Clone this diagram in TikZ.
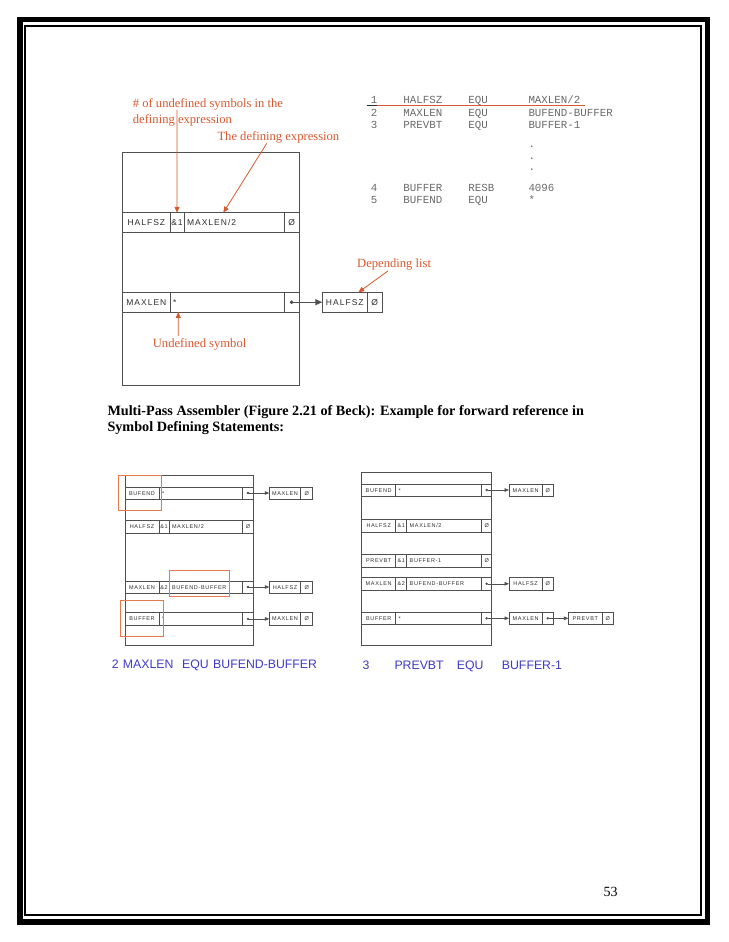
\documentclass[tikz,border=0pt]{standalone}
\usepackage{fontspec}
\setmainfont{Liberation Serif}
\newfontfamily\cellfont{Liberation Sans}[LetterSpace=12]
\newfontfamily\stmtfont{Liberation Sans}
\newfontfamily\listfont{Liberation Mono}
\usepackage{tikz}
\usetikzlibrary{arrows.meta,positioning}
\definecolor{annot}{RGB}{214,88,46}
\definecolor{hilite}{RGB}{228,122,78}
\definecolor{stmtblue}{RGB}{62,58,196}
\definecolor{listgray}{RGB}{105,105,105}
\definecolor{cellline}{RGB}{80,80,80}
\definecolor{celltext}{RGB}{45,45,45}

\begin{document}
\begin{tikzpicture}[x=1pt,y=-1pt,
    bigcell/.style={draw=cellline,line width=0.7pt,inner sep=0pt,outer sep=0pt,minimum height=19.5pt,text height=6pt,text depth=0pt,font=\cellfont\fontsize{8.5}{9}\selectfont,text=celltext},
    smallcell/.style={draw=cellline,line width=0.5pt,inner sep=0pt,outer sep=0pt,minimum height=12.5pt,text height=4pt,text depth=0pt,font=\cellfont\fontsize{5.5}{6}\selectfont,text=celltext},
    lfill/.style={align=left,inner xsep=3pt},
    frame/.style={draw=cellline,line width=0.7pt},
    note/.style={font=\fontsize{12.6}{14}\selectfont,text=annot,inner sep=0pt,anchor=base west},
    asm/.style={font=\listfont\fontsize{10.8}{12}\selectfont,text=listgray,inner sep=0pt,anchor=base west},
    stmt/.style={font=\stmtfont\fontsize{12.3}{14}\selectfont,text=stmtblue,inner sep=0pt,anchor=base west},
    capline/.style={font=\bfseries\fontsize{14.2}{16}\selectfont,inner sep=0pt,anchor=base west},
    narr/.style={draw=annot,line width=0.8pt,-{Triangle[length=6pt,width=5pt]}},
    ptr/.style={draw=cellline,line width=1.1pt,{Circle[length=3.5pt]}-{Triangle[length=7pt,width=6pt]}},
    sptr/.style={draw=cellline,line width=0.6pt,{Circle[length=2.4pt]}-{Triangle[length=4.5pt,width=3.6pt]}},
    mark box/.style={draw=hilite,line width=0.8pt}]
   \useasboundingbox (0,0) rectangle (728,942);
   % page frame
   \draw[line width=5.5pt] (19.8,19.5) rectangle (707.6,921.8);
   \draw[line width=2pt] (25.3,25.6) rectangle (701,915);

   % symbol table with annotations
   \draw[frame] (122.7,152.7) rectangle (299.3,385);
   \node[bigcell,minimum width=47.3pt,anchor=west] (tHalfName) at (122.7,222.5) {HALFSZ};
   \node[bigcell,minimum width=14pt,right=0pt of tHalfName] (tHalfCnt) {\&1};
   \node[bigcell,lfill,text width=94pt,right=0pt of tHalfCnt] (tHalfExpr) {MAXLEN/2};
   \node[bigcell,minimum width=15.3pt,right=0pt of tHalfExpr] (tHalfDep) {Ø};
   \node[bigcell,minimum width=47.3pt,anchor=west] (tMaxName) at (122.7,302.2) {MAXLEN};
   \node[bigcell,lfill,text width=108pt,right=0pt of tMaxName] (tMaxExpr) {*};
   \node[bigcell,minimum width=15.3pt,right=0pt of tMaxExpr] (tMaxDep) {};
   \node[bigcell,minimum width=45pt,anchor=west] (tDepName) at (322.3,302.2) {HALFSZ};
   \node[bigcell,minimum width=15pt,right=0pt of tDepName] (tDepNext) {Ø};
   \draw[ptr] ([xshift=-1.75pt]tMaxDep.center) -- (tDepName.west);

   \node[note] (nUndefA) at (132.7,107) {\# of undefined symbols in the};
   \node[note] (nUndefB) at (132.7,123) {defining expression};
   \node[note] (nExpr) at (217.3,140.5) {The defining expression};
   \node[note] (nUndefSym) at (152.7,347) {Undefined symbol};
   \node[note] (nDepList) at (357,267) {Depending list};
   \draw[narr] ([xshift=44.3pt]nUndefA.south west) -- (tHalfCnt.north);
   \draw[narr] ([xshift=49.4pt]nExpr.south west) -- ([xshift=39.3pt]tHalfExpr.north west);
   \draw[narr] ([xshift=25.6pt,yshift=2pt]nUndefSym.north west) -- ([xshift=8.3pt]tMaxExpr.south west);
   \draw[narr] ([xshift=31pt,yshift=-1pt]nDepList.south west) -- ([xshift=-9pt]tDepName.north east);

   % source lines
   \node[asm] (lst1) at (370.7,103) {\makebox[32.6pt][l]{1}\makebox[65pt][l]{HALFSZ}\makebox[60pt][l]{EQU}MAXLEN/2};
   \node[asm] (lst2) at (370.7,116) {\makebox[32.6pt][l]{2}\makebox[65pt][l]{MAXLEN}\makebox[60pt][l]{EQU}BUFEND-BUFFER};
   \node[asm] (lst3) at (370.7,128) {\makebox[32.6pt][l]{3}\makebox[65pt][l]{PREVBT}\makebox[60pt][l]{EQU}BUFFER-1};
   \node[asm] (dotA) at (528.3,147) {.};
   \node[asm] (dotB) at (528.3,159) {.};
   \node[asm] (dotC) at (528.3,170) {.};
   \node[asm] (lst4) at (370.7,191) {\makebox[32.6pt][l]{4}\makebox[65pt][l]{BUFFER}\makebox[60pt][l]{RESB}4096};
   \node[asm] (lst5) at (370.7,203.5) {\makebox[32.6pt][l]{5}\makebox[65pt][l]{BUFEND}\makebox[60pt][l]{EQU}*};
   \draw[draw=annot,line width=0.8pt] (366.7,105.5) -- (585,105.5);
   \draw[draw=celltext,line width=0.6pt] (366.7,105.5) -- (377,105.5);

   % caption
   \node[capline] (capA) at (107.3,415.5) {Multi-Pass Assembler (Figure 2.21 of Beck): Example for forward reference in};
   \node[capline] (capB) at (107.3,431.5) {Symbol Defining Statements:};

   % after statement 2
   \draw[frame,line width=0.6pt] (125,475) rectangle (253.3,645);
   \node[smallcell,minimum width=34pt,anchor=west] (aBufendName) at (125,493) {BUFEND};
   \node[smallcell,lfill,text width=77.7pt,right=0pt of aBufendName] (aBufendExpr) {*};
   \node[smallcell,minimum width=10.6pt,right=0pt of aBufendExpr] (aBufendDep) {};
   \node[smallcell,minimum width=34pt,anchor=west] (aHalfName) at (125,526.7) {HALFSZ};
   \node[smallcell,minimum width=10pt,right=0pt of aHalfName] (aHalfCnt) {\&1};
   \node[smallcell,lfill,text width=67.7pt,right=0pt of aHalfCnt] (aHalfExpr) {MAXLEN/2};
   \node[smallcell,minimum width=10.6pt,right=0pt of aHalfExpr] (aHalfDep) {Ø};
   \node[smallcell,minimum width=34pt,anchor=west] (aMaxName) at (125,587) {MAXLEN};
   \node[smallcell,minimum width=10pt,right=0pt of aMaxName] (aMaxCnt) {\&2};
   \node[smallcell,lfill,text width=67.7pt,right=0pt of aMaxCnt] (aMaxExpr) {BUFEND-BUFFER};
   \node[smallcell,minimum width=10.6pt,right=0pt of aMaxExpr] (aMaxDep) {};
   \node[smallcell,minimum width=34pt,anchor=west] (aBufName) at (125,618.9) {BUFFER};
   \node[smallcell,lfill,text width=77.7pt,right=0pt of aBufName] (aBufExpr) {*};
   \node[smallcell,minimum width=10.6pt,right=0pt of aBufExpr] (aBufDep) {};
   \node[smallcell,minimum width=31.4pt,anchor=west] (aDep1) at (269.3,493) {MAXLEN};
   \node[smallcell,minimum width=12pt,right=0pt of aDep1] (aDep1n) {Ø};
   \node[smallcell,minimum width=31.4pt,anchor=west] (aDep2) at (269.3,587) {HALFSZ};
   \node[smallcell,minimum width=12pt,right=0pt of aDep2] (aDep2n) {Ø};
   \node[smallcell,minimum width=31.4pt,anchor=west] (aDep3) at (269.3,618.9) {MAXLEN};
   \node[smallcell,minimum width=12pt,right=0pt of aDep3] (aDep3n) {Ø};
   \draw[sptr] ([xshift=-1.2pt]aBufendDep.center) -- (aDep1.west);
   \draw[sptr] ([xshift=-1.2pt]aMaxDep.center) -- (aDep2.west);
   \draw[sptr] ([xshift=-1.2pt]aBufDep.center) -- (aDep3.west);
   \draw[mark box] (118.3,475.7) rectangle (161.7,510.7);
   \draw[mark box] (169.3,570) rectangle (229.3,596.7);
   \draw[mark box] (120.7,600.7) rectangle (163.3,636);
   \node[stmt] (sA1) at (111.7,668.5) {2};
   \node[stmt] (sA2) at (122.7,668.5) {MAXLEN};
   \node[stmt] (sA3) at (182,668.5) {EQU};
   \node[stmt] (sA4) at (213,668.5) {BUFEND-BUFFER};

   % after statement 3
   \draw[frame,line width=0.6pt] (361.7,472.7) rectangle (491.7,645);
   \node[smallcell,minimum width=34pt,anchor=west] (bBufendName) at (361.7,490) {BUFEND};
   \node[smallcell,lfill,text width=80pt,right=0pt of bBufendName] (bBufendExpr) {*};
   \node[smallcell,minimum width=10pt,right=0pt of bBufendExpr] (bBufendDep) {};
   \node[smallcell,minimum width=34pt,anchor=west] (bHalfName) at (361.7,525.5) {HALFSZ};
   \node[smallcell,minimum width=11pt,right=0pt of bHalfName] (bHalfCnt) {\&1};
   \node[smallcell,lfill,text width=69pt,right=0pt of bHalfCnt] (bHalfExpr) {MAXLEN/2};
   \node[smallcell,minimum width=10pt,right=0pt of bHalfExpr] (bHalfDep) {Ø};
   \node[smallcell,minimum width=34pt,anchor=west] (bPrevName) at (361.7,560.5) {PREVBT};
   \node[smallcell,minimum width=11pt,right=0pt of bPrevName] (bPrevCnt) {\&1};
   \node[smallcell,lfill,text width=69pt,right=0pt of bPrevCnt] (bPrevExpr) {BUFFER-1};
   \node[smallcell,minimum width=10pt,right=0pt of bPrevExpr] (bPrevDep) {Ø};
   \node[smallcell,minimum width=34pt,anchor=west] (bMaxName) at (361.7,583.8) {MAXLEN};
   \node[smallcell,minimum width=11pt,right=0pt of bMaxName] (bMaxCnt) {\&2};
   \node[smallcell,lfill,text width=69pt,right=0pt of bMaxCnt] (bMaxExpr) {BUFEND-BUFFER};
   \node[smallcell,minimum width=10pt,right=0pt of bMaxExpr] (bMaxDep) {};
   \node[smallcell,minimum width=34pt,anchor=west] (bBufName) at (361.7,618.3) {BUFFER};
   \node[smallcell,lfill,text width=80pt,right=0pt of bBufName] (bBufExpr) {*};
   \node[smallcell,minimum width=10pt,right=0pt of bBufExpr] (bBufDep) {};
   \node[smallcell,minimum width=33.3pt,anchor=west] (bDep1) at (509,490) {MAXLEN};
   \node[smallcell,minimum width=11pt,right=0pt of bDep1] (bDep1n) {Ø};
   \node[smallcell,minimum width=33.3pt,anchor=west] (bDep2) at (509,583.8) {HALFSZ};
   \node[smallcell,minimum width=11pt,right=0pt of bDep2] (bDep2n) {Ø};
   \node[smallcell,minimum width=33.3pt,anchor=west] (bDep3) at (509,618.3) {MAXLEN};
   \node[smallcell,minimum width=11pt,right=0pt of bDep3] (bDep3n) {};
   \node[smallcell,minimum width=34pt,anchor=west] (bDep4) at (568.3,618.3) {PREVBT};
   \node[smallcell,minimum width=11pt,right=0pt of bDep4] (bDep4n) {Ø};
   \draw[sptr] ([xshift=-1.2pt]bBufendDep.center) -- (bDep1.west);
   \draw[sptr] ([xshift=-1.2pt]bMaxDep.center) -- (bDep2.west);
   \draw[sptr] ([xshift=-1.2pt]bBufDep.center) -- (bDep3.west);
   \draw[sptr] ([xshift=-1.2pt]bDep3n.center) -- (bDep4.west);
   \node[stmt] (sB1) at (362.3,669) {3};
   \node[stmt] (sB2) at (394.3,669) {PREVBT};
   \node[stmt] (sB3) at (456.7,669) {EQU};
   \node[stmt] (sB4) at (501.7,669) {BUFFER-1};

   % page number
   \node[font=\fontsize{14}{16}\selectfont,inner sep=0pt,anchor=base west] (pageNo) at (603.3,896) {53};
\end{tikzpicture}
\end{document}
